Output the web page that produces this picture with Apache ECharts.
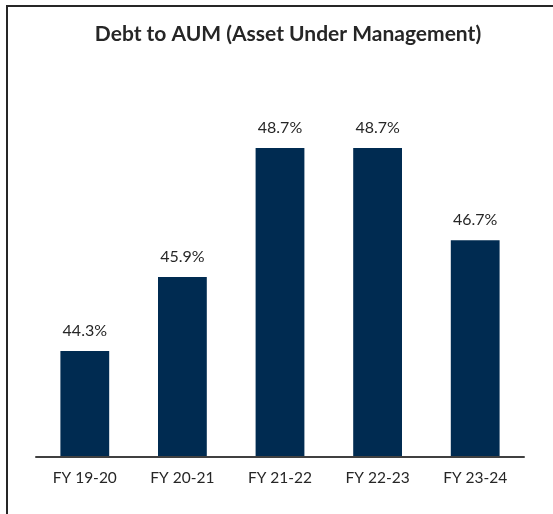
<!DOCTYPE html>
<html>
<head>
<meta charset="utf-8">
<title>Debt to AUM</title>
<script src="https://cdn.jsdelivr.net/npm/echarts@6/dist/echarts.min.js"></script>
<style>
  html, body { margin: 0; padding: 0; background: #fff; }
  .wrap { position: relative; width: 553px; height: 514px; overflow: hidden; }
  /* frame: only top and left edges are visible in the picture */
  .frame {
    position: absolute; left: 6px; top: 5px;
    width: 600px; height: 600px;
    border-top: 2px solid #262626;
    border-left: 2px solid #262626;
  }
  #chart { position: absolute; left: 0; top: 0; width: 553px; height: 514px; }
</style>
</head>
<body>
<div class="wrap">
  <div class="frame"></div>
  <div id="chart"></div>
</div>
<script>
// 数据
var categories = ["FY 19-20", "FY 20-21", "FY 21-22", "FY 22-23", "FY 23-24"];
var debtToAum = [44.3, 45.9, 48.7, 48.7, 46.7];

var myChart = echarts.init(document.getElementById("chart"));

var option = {
  backgroundColor: "transparent",
  animation: false,
  title: {
    text: "Debt to AUM (Asset Under Management)",
    left: 283,
    textAlign: "center",
    top: 19,
    textStyle: {
      fontFamily: "Lato",
      fontWeight: "bold",
      fontSize: 21,
      color: "#262626"
    }
  },
  grid: {
    left: 36,
    right: 29,
    top: 88,
    bottom: 57
  },
  xAxis: {
    type: "category",
    data: categories,
    axisLine: {
      lineStyle: { color: "#404040", width: 2 }
    },
    axisTick: { show: false },
    axisLabel: {
      margin: 13,
      fontFamily: "Lato",
      fontSize: 15.5,
      color: "#262626"
    },
    z: 5
  },
  yAxis: {
    type: "value",
    min: 42,
    max: 50,
    show: false
  },
  series: [
    {
      name: "Debt to AUM",
      type: "bar",
      data: debtToAum,
      barWidth: "50%",
      itemStyle: { color: "#002B51" },
      label: {
        show: true,
        position: "top",
        distance: 12,
        formatter: "{c}%",
        fontFamily: "Lato",
        fontSize: 16,
        color: "#262626"
      }
    }
  ]
};

myChart.setOption(option);
</script>
</body>
</html>
